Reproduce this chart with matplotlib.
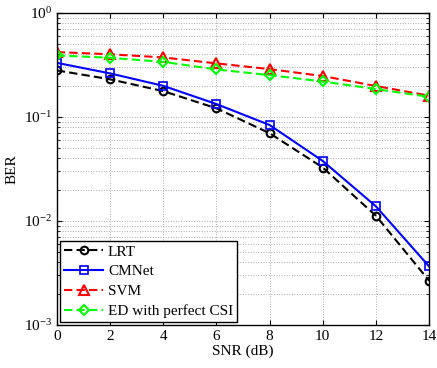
import numpy as np
import matplotlib
matplotlib.use('Agg')
import matplotlib.pyplot as plt

plt.rcParams['font.family'] = ['Liberation Serif', 'DejaVu Serif']
plt.rcParams['mathtext.fontset'] = 'stix'

# data
snr = [0, 2, 4, 6, 8, 10, 12, 14]
ber_lrt = [0.28, 0.23, 0.177, 0.121, 0.0697, 0.0326, 0.0112, 0.00266]
ber_cmnet = [0.331, 0.262, 0.199, 0.133, 0.0836, 0.0377, 0.0138, 0.00365]
ber_svm = [0.42, 0.40, 0.373, 0.327, 0.288, 0.247, 0.198, 0.16]
ber_ed = [0.39, 0.37, 0.338, 0.286, 0.252, 0.219, 0.185, 0.156]

fig = plt.figure(figsize=(4.37, 3.68), dpi=100)
ax = fig.add_axes([0.130, 0.117, 0.852, 0.848])

dash = (4, 2)
ax.semilogy(snr, ber_lrt, 'k--o', lw=1.5, ms=5.5, mfc='none', mew=1.5, dashes=dash, label='LRT')
ax.semilogy(snr, ber_cmnet, 'b-s', lw=1.5, ms=5.5, mfc='none', mew=1.2, label='CMNet')
ax.semilogy(snr, ber_svm, 'r--^', lw=1.5, ms=6.5, mfc='none', mew=1.5, dashes=dash, label='SVM')
ax.semilogy(snr, ber_ed, '--D', color='#00ff00', lw=1.5, ms=5.5, mfc='none', mew=1.5, dashes=dash,
            label='ED with perfect CSI')

ax.set_xlim(0, 14)
ax.set_ylim(1e-3, 1)
ax.set_xticks(snr)
ax.grid(True, which='both', linestyle=':', color='#aaaaaa', lw=0.7)
ax.tick_params(which='both', direction='in', top=True, right=True, labelsize=11)
for s in ax.spines.values():
    s.set_linewidth(1.0)

ax.set_xlabel('SNR (dB)', fontsize=11, labelpad=1)
ax.set_ylabel('BER', fontsize=11)

leg = ax.legend(loc='lower left', fontsize=11, fancybox=False, framealpha=1,
                edgecolor='black', borderpad=0.25, labelspacing=0.4,
                handlelength=2.6, handletextpad=0.3, borderaxespad=0.2)
leg.get_frame().set_linewidth(1.0)

fig.savefig('out.png', dpi=100)
